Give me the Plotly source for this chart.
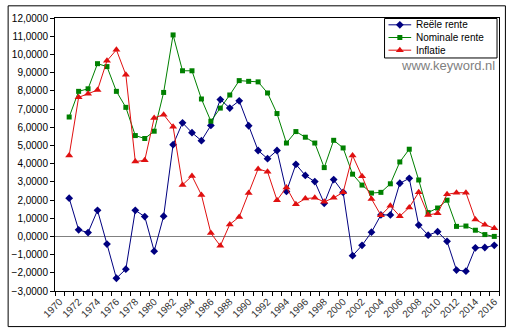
import plotly.graph_objects as go

years = list(range(1971, 2017))

reele_rente = [2.10, 0.36, 0.21, 1.43, -0.42, -2.30, -1.80, 1.43, 1.09, -0.81,
               1.11, 5.04, 6.24, 5.70, 5.26, 6.10, 7.52, 7.05, 7.45, 6.08,
               4.72, 4.27, 4.72, 2.47, 3.96, 3.35, 3.01, 1.82, 3.12, 2.42,
               -1.06, -0.49, 0.23, 1.18, 1.18, 2.92, 3.19, 0.62, 0.07, 0.26,
               -0.27, -1.85, -1.91, -0.63, -0.61, -0.49]

nominale_rente = [6.56, 7.97, 8.11, 9.49, 9.33, 7.97, 7.09, 5.54, 5.38, 5.78,
                  7.91, 11.07, 9.10, 9.10, 7.55, 6.33, 7.05, 7.77, 8.56, 8.52,
                  8.49, 7.88, 6.75, 5.13, 5.76, 5.45, 5.13, 3.78, 5.28, 4.86,
                  3.42, 2.82, 2.38, 2.42, 2.89, 4.09, 4.79, 3.10, 1.31, 1.56,
                  1.99, 0.55, 0.57, 0.34, 0.10, 0.00]

inflatie = [4.45, 7.64, 7.84, 8.04, 9.65, 10.25, 8.88, 4.11, 4.18, 6.51,
            6.69, 6.03, 2.83, 3.32, 2.28, 0.18, -0.52, 0.66, 1.07, 2.38,
            3.71, 3.55, 1.99, 2.69, 1.76, 2.08, 2.12, 1.90, 2.12, 2.42,
            4.44, 3.30, 2.06, 1.16, 1.68, 1.11, 1.59, 2.42, 1.18, 1.27,
            2.31, 2.40, 2.40, 0.93, 0.64, 0.45]

series_names = ["Reële rente", "Nominale rente", "Inflatie"]
series_colors = ["#000080", "#008000", "#E01010"]
series_symbols = ["diamond", "square", "triangle-up"]
series_sizes = [6, 5, 7]
series_values = [reele_rente, nominale_rente, inflatie]

tick_years = list(range(1970, 2017, 2))
tick_labels = [str(y) for y in tick_years]

FONT = "Liberation Sans, Arial, sans-serif"

L, R, T, B = 49, 14, 14, 38
W, H = 513, 332
pw = W - L - R
ph = H - T - B


def px(x):
    return (x - L) / pw


def py(y):
    return (H - B - y) / ph


fig = go.Figure()
for name, vals, col, sym, sz in zip(series_names, series_values, series_colors,
                                    series_symbols, series_sizes):
    fig.add_trace(go.Scatter(x=years, y=vals, name=name, mode="lines+markers",
                             line=dict(color=col, width=1),
                             marker=dict(symbol=sym, size=sz, color=col),
                             showlegend=False))

# manual legend (box, sample lines, sample markers, labels)
leg_left, leg_right, leg_top, leg_bottom = 383, 497, 14.5, 55
entry_y = [21, 34, 47]
line_x0, line_x1, mark_x, text_x = 387, 410, 398.5, 413

shapes = [
    dict(type="rect", xref="paper", yref="paper",
         x0=px(leg_left), x1=px(leg_right), y0=py(leg_bottom), y1=py(leg_top),
         line=dict(color="black", width=1), fillcolor="white", layer="below"),
    dict(type="rect", xref="paper", yref="paper",
         x0=px(1.5), x1=px(505.5), y0=py(330.5), y1=py(1.5),
         line=dict(color="black", width=1), fillcolor="rgba(0,0,0,0)", layer="above"),
]
annotations = []
for name, col, sym, sz, ey in zip(series_names, series_colors, series_symbols,
                                   series_sizes, entry_y):
    shapes.append(dict(type="line", xref="paper", yref="paper",
                       x0=px(line_x0), x1=px(line_x1), y0=py(ey), y1=py(ey),
                       line=dict(color=col, width=1), layer="above"))
    fig.add_trace(go.Scatter(x=[px(mark_x)], y=[py(ey)], xaxis="x2", yaxis="y2",
                             mode="markers", marker=dict(symbol=sym, size=sz, color=col),
                             showlegend=False, hoverinfo="skip"))
    annotations.append(dict(text=name, xref="paper", yref="paper", x=px(text_x), y=py(ey),
                            xanchor="left", yanchor="middle", showarrow=False,
                            font=dict(size=10, color="black", family=FONT)))

annotations.append(dict(text="www.keyword.nl", xref="paper", yref="paper",
                        x=px(497), y=py(63), xanchor="right", yanchor="middle",
                        showarrow=False, font=dict(size=13, color="#7f7f7f", family=FONT)))

fig.update_layout(
    width=W, height=H,
    margin=dict(l=L, r=R, t=T, b=B, pad=0),
    paper_bgcolor="white", plot_bgcolor="white",
    separators=",.",
    font=dict(family=FONT, size=10, color="black"),
    showlegend=False,
    xaxis=dict(range=[1969.5, 2016.5], tickmode="array", tickvals=tick_years,
               ticktext=tick_labels, tickangle=-45, ticks="", showgrid=False,
               zeroline=False, showline=True, linecolor="black", linewidth=1, mirror=True,
               tickfont=dict(size=10, color="#333"),
               minor=dict(tick0=1969.5, dtick=1, ticks="outside", ticklen=4,
                          tickcolor="black", showgrid=False)),
    yaxis=dict(range=[-3, 12], dtick=1, tick0=0, tickformat=".4f", ticks="outside",
               ticklen=4, tickcolor="black", showgrid=False, zeroline=True,
               zerolinecolor="#808080", zerolinewidth=1, showline=True,
               linecolor="black", linewidth=1, mirror=True,
               tickfont=dict(size=10, color="black")),
    xaxis2=dict(range=[0, 1], overlaying="x", visible=False, fixedrange=True),
    yaxis2=dict(range=[0, 1], overlaying="y", visible=False, fixedrange=True),
    shapes=shapes,
    annotations=annotations,
)

fig.write_html("out.html")
